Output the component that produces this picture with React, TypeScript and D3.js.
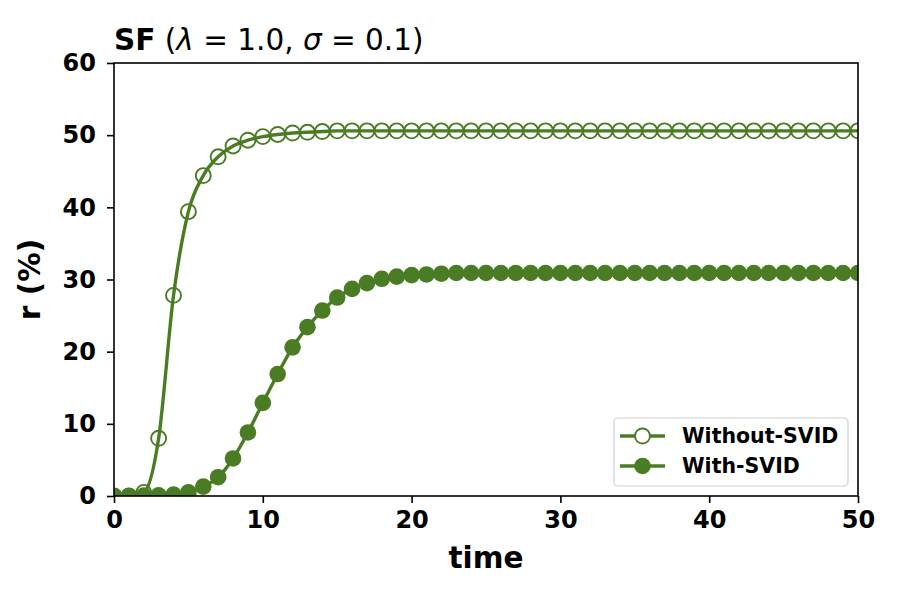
import { useEffect, useRef } from "react";
import * as d3 from "d3";

const times: number[] = [
    0, 1, 2, 3, 4, 5, 6, 7, 8, 9, 10, 11, 12, 13, 14, 15, 16, 17, 18, 19, 20,
    21, 22, 23, 24, 25, 26, 27, 28, 29, 30, 31, 32, 33, 34, 35, 36, 37, 38, 39,
    40, 41, 42, 43, 44, 45, 46, 47, 48, 49, 50,
];

// r (%) without SVID
const withoutSvid: number[] = [
    0, 0, 0.5, 8.0, 27.8, 39.4, 44.4, 47.0, 48.5, 49.3, 49.8, 50.1, 50.3, 50.4,
    50.5, 50.6, 50.6, 50.6, 50.6, 50.6, 50.6, 50.6, 50.6, 50.6, 50.6, 50.6,
    50.6, 50.6, 50.6, 50.6, 50.6, 50.6, 50.6, 50.6, 50.6, 50.6, 50.6, 50.6,
    50.6, 50.6, 50.6, 50.6, 50.6, 50.6, 50.6, 50.6, 50.6, 50.6, 50.6, 50.6,
    50.6,
];

// r (%) with SVID
const withSvid: number[] = [
    0, 0, 0.05, 0.1, 0.2, 0.5, 1.3, 2.6, 5.2, 8.8, 12.9, 16.9, 20.6, 23.4, 25.7,
    27.5, 28.7, 29.5, 30.1, 30.4, 30.6, 30.7, 30.8, 30.9, 30.9, 30.9, 30.9,
    30.9, 30.9, 30.9, 30.9, 30.9, 30.9, 30.9, 30.9, 30.9, 30.9, 30.9, 30.9,
    30.9, 30.9, 30.9, 30.9, 30.9, 30.9, 30.9, 30.9, 30.9, 30.9, 30.9, 30.9,
];

const xTicks: number[] = [0, 10, 20, 30, 40, 50];
const yTicks: number[] = [0, 10, 20, 30, 40, 50, 60];

const GREEN = "#4a7c23";
const FONT = "'DejaVu Sans', sans-serif";

export default function App() {
    const svgRef = useRef<SVGSVGElement>(null);

    useEffect(() => {
        if (!svgRef.current) return;
        const width = 900;
        const height = 600;
        const left = 114;
        const right = 858;
        const top = 63;
        const bottom = 496;

        const svg = d3.select(svgRef.current);
        svg.selectAll("*").remove();
        svg.attr("width", width).attr("height", height);

        svg.append("rect")
            .attr("width", width)
            .attr("height", height)
            .attr("fill", "#fff");

        const x = d3.scaleLinear().domain([0, 50]).range([left, right]);
        const y = d3.scaleLinear().domain([0, 60]).range([bottom, top]);

        svg.append("defs")
            .append("clipPath")
            .attr("id", "plot-clip")
            .append("rect")
            .attr("x", left)
            .attr("y", top)
            .attr("width", right - left)
            .attr("height", bottom - top);

        const plot = svg.append("g").attr("clip-path", "url(#plot-clip)");

        const line = d3
            .line<number>()
            .x((_, i) => x(times[i]))
            .y((d) => y(d))
            .curve(d3.curveMonotoneX);

        // Without-SVID: smooth line + open circles
        plot.append("path")
            .datum(withoutSvid)
            .attr("d", line)
            .attr("fill", "none")
            .attr("stroke", GREEN)
            .attr("stroke-width", 3.4);

        plot.selectAll(".open-pt")
            .data(withoutSvid)
            .enter()
            .append("circle")
            .attr("class", "open-pt")
            .attr("cx", (_, i) => x(times[i]))
            .attr("cy", (d) => y(d))
            .attr("r", 7.5)
            .attr("fill", "none")
            .attr("stroke", GREEN)
            .attr("stroke-width", 1.9);

        // With-SVID: line + filled circles
        plot.append("path")
            .datum(withSvid)
            .attr("d", line)
            .attr("fill", "none")
            .attr("stroke", GREEN)
            .attr("stroke-width", 3.4);

        plot.selectAll(".fill-pt")
            .data(withSvid)
            .enter()
            .append("circle")
            .attr("class", "fill-pt")
            .attr("cx", (_, i) => x(times[i]))
            .attr("cy", (d) => y(d))
            .attr("r", 8.3)
            .attr("fill", GREEN);

        // frame
        svg.append("rect")
            .attr("x", left)
            .attr("y", top)
            .attr("width", right - left)
            .attr("height", bottom - top)
            .attr("fill", "none")
            .attr("stroke", "#000")
            .attr("stroke-width", 1.6);

        // axes
        const xAxis = svg
            .append("g")
            .attr("transform", `translate(0,${bottom})`)
            .call(
                d3
                    .axisBottom(x)
                    .tickValues(xTicks)
                    .tickSize(7)
                    .tickPadding(8)
                    .tickFormat(d3.format("d")),
            );
        const yAxis = svg
            .append("g")
            .attr("transform", `translate(${left},0)`)
            .call(
                d3
                    .axisLeft(y)
                    .tickValues(yTicks)
                    .tickSize(7)
                    .tickPadding(11)
                    .tickFormat(d3.format("d")),
            );
        [xAxis, yAxis].forEach((a) => {
            a.select(".domain").remove();
            a.selectAll(".tick line")
                .attr("stroke", "#000")
                .attr("stroke-width", 1.6);
            a.selectAll(".tick text")
                .attr("fill", "#000")
                .style("font-family", FONT)
                .style("font-weight", "bold")
                .style("font-size", "24px");
        });

        // axis labels
        svg.append("text")
            .attr("x", (left + right) / 2)
            .attr("y", 568)
            .attr("text-anchor", "middle")
            .style("font-family", FONT)
            .style("font-weight", "bold")
            .style("font-size", "29.5px")
            .text("time");

        svg.append("text")
            .attr("transform", `translate(40,${(top + bottom) / 2}) rotate(-90)`)
            .attr("text-anchor", "middle")
            .style("font-family", FONT)
            .style("font-weight", "bold")
            .style("font-size", "29.5px")
            .text("r (%)");

        // title
        const title = svg
            .append("text")
            .attr("x", left)
            .attr("y", 50)
            .style("font-family", FONT)
            .style("font-size", "29.5px");
        title.append("tspan").style("font-weight", "bold").text("SF");
        title.append("tspan").text(" (");
        title.append("tspan").style("font-style", "italic").text("λ");
        title.append("tspan").text(" = 1.0, ");
        title.append("tspan").style("font-style", "italic").text("σ");
        title.append("tspan").text(" = 0.1)");

        // legend
        const legend = svg.append("g");
        legend.append("rect")
            .attr("x", 614)
            .attr("y", 418)
            .attr("width", 234)
            .attr("height", 68)
            .attr("rx", 4)
            .attr("fill", "#fff")
            .attr("fill-opacity", 0.8)
            .attr("stroke", "#d0d0d0")
            .attr("stroke-width", 1.2);

        const entries = [
            { label: "Without-SVID", filled: false },
            { label: "With-SVID", filled: true },
        ];
        entries.forEach((e, i) => {
            const cy = 436 + i * 30;
            legend.append("line")
                .attr("x1", 620)
                .attr("x2", 665)
                .attr("y1", cy)
                .attr("y2", cy)
                .attr("stroke", GREEN)
                .attr("stroke-width", 3.4);
            legend.append("circle")
                .attr("cx", 642.5)
                .attr("cy", cy)
                .attr("r", e.filled ? 8.3 : 7.5)
                .attr("fill", e.filled ? GREEN : "#fff")
                .attr("stroke", GREEN)
                .attr("stroke-width", e.filled ? 0 : 1.9);
            legend.append("text")
                .attr("x", 682)
                .attr("y", cy)
                .attr("dy", "0.36em")
                .style("font-family", FONT)
                .style("font-weight", "bold")
                .style("font-size", "20.5px")
                .text(e.label);
        });
    }, []);

    return <svg ref={svgRef} style={{ display: "block", margin: "-8px" }}></svg>;
}
